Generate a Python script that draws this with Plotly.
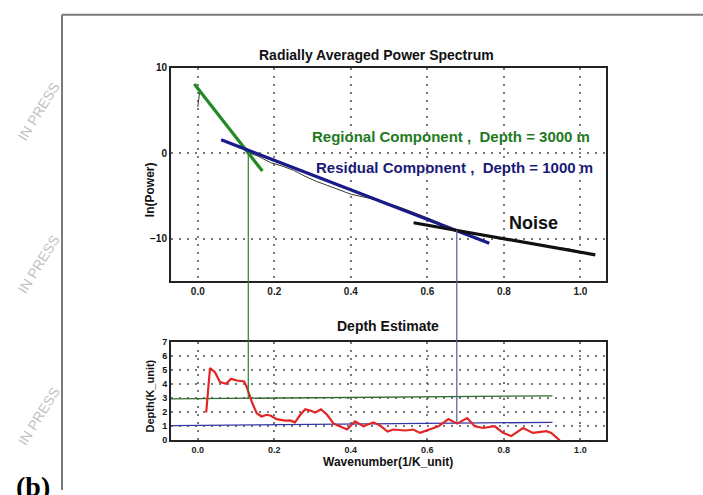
import plotly.graph_objects as go

# ---------------- data ----------------
# Radially averaged power spectrum (observed curve)
wavenumber = [0.0, 0.005, 0.02, 0.05, 0.08, 0.11, 0.135, 0.16, 0.19, 0.22, 0.25, 0.28,
              0.31, 0.34, 0.37, 0.40, 0.43, 0.46, 0.49, 0.52, 0.55, 0.58, 0.61, 0.64,
              0.67, 0.70, 0.73, 0.76, 0.79, 0.82, 0.85, 0.88, 0.91, 0.94, 0.97, 1.0]
ln_power = [5.4, 7.2, 6.4, 4.7, 3.0, 1.3, 0.0, -0.4, -1.1, -1.5, -2.0, -2.7,
            -3.3, -3.8, -4.3, -4.8, -5.1, -5.4, -5.8, -6.2, -6.7, -7.2, -7.75, -8.35,
            -8.95, -9.25, -9.45, -9.7, -9.9, -10.15, -10.4, -10.6, -10.85, -11.05, -11.2, -11.55]

# Fitted straight lines
regional_x = [-0.009, 0.169]
regional_y = [8.1, -2.1]
residual_x = [0.061, 0.762]
residual_y = [1.57, -10.55]
noise_x = [0.564, 1.039]
noise_y = [-8.15, -11.9]

# Depth estimate curve
depth_k = [0.022, 0.032, 0.045, 0.058, 0.074, 0.087, 0.102, 0.121, 0.128, 0.141, 0.154,
           0.167, 0.180, 0.191, 0.206, 0.228, 0.241, 0.254, 0.268, 0.281, 0.294, 0.307,
           0.322, 0.338, 0.355, 0.372, 0.390, 0.411, 0.433, 0.459, 0.477, 0.496, 0.511,
           0.542, 0.563, 0.581, 0.607, 0.629, 0.655, 0.678, 0.704, 0.724, 0.746, 0.776,
           0.798, 0.819, 0.850, 0.876, 0.911, 0.924, 0.946]
depth_est = [1.98, 5.15, 4.85, 4.15, 4.03, 4.38, 4.26, 4.19, 3.8, 2.75, 1.93,
             1.7, 1.82, 1.75, 1.51, 1.40, 1.42, 1.28, 1.82, 2.21, 2.12, 1.98,
             2.21, 1.82, 1.19, 1.0, 0.77, 1.35, 1.0, 1.28, 1.05, 0.62, 0.77,
             0.7, 0.77, 0.53, 0.81, 1.0, 1.51, 1.19, 1.58, 1.0, 0.88, 1.0,
             0.53, 0.3, 0.88, 0.53, 0.65, 0.53, 0.0]

# Depth reference lines (bottom panel)
regional_depth_x = [-0.07, 0.927]
regional_depth_y = [2.95, 3.17]
residual_depth_x = [-0.07, 0.927]
residual_depth_y = [1.05, 1.28]

# Break points (connector lines)
break_regional = dict(k=0.132, power=0.0, depth=2.96)
break_residual = dict(k=0.677, power=-9.0, depth=1.22)

x_ticks = [0.0, 0.2, 0.4, 0.6, 0.8, 1.0]
x_ticktext = ["0.0", "0.2", "0.4", "0.6", "0.8", "1.0"]
top_y_ticks = [-10, 0, 10]
bottom_y_ticks = [0, 1, 2, 3, 4, 5, 6, 7]

# ---------------- layout constants ----------------
W, H = 703, 495
XDOM = [171 / W, 606 / W]
TOP_DOM = [1 - 282 / H, 1 - 64 / H]
BOT_DOM = [1 - 444.3 / H, 1 - 344 / H]
XR = [-0.07, 1.067]
TOP_R = [-15, 10]
BOT_R = [0, 7]

FONT = "Arial, Liberation Sans, Helvetica, sans-serif"


def to_paper(v, rng, dom):
    return dom[0] + (v - rng[0]) / (rng[1] - rng[0]) * (dom[1] - dom[0])


fig = go.Figure()

# top panel traces
fig.add_trace(go.Scatter(x=wavenumber, y=ln_power, mode="lines",
                         line=dict(color="#3a3a30", width=1), xaxis="x", yaxis="y"))
fig.add_trace(go.Scatter(x=regional_x, y=regional_y, mode="lines",
                         line=dict(color="#238a23", width=3.2), xaxis="x", yaxis="y"))
fig.add_trace(go.Scatter(x=residual_x, y=residual_y, mode="lines",
                         line=dict(color="#1a1a88", width=3.2), xaxis="x", yaxis="y"))
fig.add_trace(go.Scatter(x=noise_x, y=noise_y, mode="lines",
                         line=dict(color="#111111", width=3.2), xaxis="x", yaxis="y"))

# bottom panel traces
fig.add_trace(go.Scatter(x=regional_depth_x, y=regional_depth_y, mode="lines",
                         line=dict(color="#2f6a2f", width=1.3), xaxis="x2", yaxis="y2"))
fig.add_trace(go.Scatter(x=residual_depth_x, y=residual_depth_y, mode="lines",
                         line=dict(color="#3636a8", width=1.3), xaxis="x2", yaxis="y2"))
fig.add_trace(go.Scatter(x=depth_k, y=depth_est, mode="lines",
                         line=dict(color="#e32525", width=2.2), xaxis="x2", yaxis="y2"))

shapes = []
# connector lines spanning both panels
for bp, col in [(break_regional, "#2f7a2f"), (break_residual, "#5a5aa0")]:
    shapes.append(dict(type="line", xref="x", yref="paper",
                       x0=bp["k"], x1=bp["k"],
                       y0=to_paper(bp["depth"], BOT_R, BOT_DOM),
                       y1=to_paper(bp["power"], TOP_R, TOP_DOM),
                       line=dict(color=col, width=1.2), layer="above"))
# outer frame of the figure panel
shapes.append(dict(type="line", xref="paper", yref="paper", x0=62 / W, x1=1.0,
                   y0=1 - 10 / H, y1=1 - 10 / H, line=dict(color="#7a7a7a", width=2)))
shapes.append(dict(type="line", xref="paper", yref="paper", x0=62 / W, x1=62 / W,
                   y0=0, y1=1 - 10 / H, line=dict(color="#7a7a7a", width=2)))

annotations = [
    dict(text="Radially Averaged Power Spectrum", xref="paper", yref="paper",
         x=377 / W, y=1 - 51 / H, showarrow=False, xanchor="center", yanchor="middle",
         font=dict(family=FONT, size=14, color="#111", weight="bold")),
    dict(text="Depth Estimate", xref="paper", yref="paper",
         x=388 / W, y=1 - 328 / H, showarrow=False, xanchor="center", yanchor="middle",
         font=dict(family=FONT, size=14, color="#111", weight="bold")),
    dict(text="Regional Component ,  Depth = 3000 m", xref="x", yref="y",
         x=0.662, y=1.9, showarrow=False, xanchor="center", yanchor="middle",
         font=dict(family=FONT, size=15, color="#1f7a1f", weight="bold")),
    dict(text="Residual Component ,  Depth = 1000 m", xref="x", yref="y",
         x=0.672, y=-1.68, showarrow=False, xanchor="center", yanchor="middle",
         font=dict(family=FONT, size=15, color="#1a1a78", weight="bold")),
    dict(text="Noise", xref="x", yref="y", x=0.878, y=-8.19, showarrow=False,
         xanchor="center", yanchor="middle",
         font=dict(family=FONT, size=18, color="#111", weight="bold")),
    dict(text="ln(Power)", xref="paper", yref="paper", x=150 / W, y=1 - 189 / H,
         textangle=-90, showarrow=False, xanchor="center", yanchor="middle",
         font=dict(family=FONT, size=12, color="#111", weight="bold")),
    dict(text="Depth(K_unit)", xref="paper", yref="paper", x=149.5 / W, y=1 - 399 / H,
         textangle=-90, showarrow=False, xanchor="center", yanchor="middle",
         font=dict(family=FONT, size=11, color="#111", weight="bold")),
    dict(text="Wavenumber(1/K_unit)", xref="paper", yref="paper", x=388 / W, y=1 - 466 / H,
         showarrow=False, xanchor="center", yanchor="middle",
         font=dict(family=FONT, size=12, color="#111", weight="bold")),
    dict(text="(b)", xref="paper", yref="paper", x=33 / W, y=1 - 474 / H,
         showarrow=False, xanchor="center", yanchor="top",
         font=dict(family="Liberation Serif, Times New Roman, serif", size=28,
                   color="#000", weight="bold")),
]
for yc in [109, 265, 420]:
    annotations.append(dict(text="IN PRESS", xref="paper", yref="paper",
                            x=38 / W, y=1 - yc / H, textangle=-58, showarrow=False,
                            xanchor="center", yanchor="middle",
                            font=dict(family=FONT, size=14, color="#c2c2c2")))

grid = dict(showgrid=True, gridcolor="#7a7a7a", gridwidth=1.6, griddash="2px,6px",
            showline=True, linecolor="#222", linewidth=2, mirror=True,
            ticks="", zeroline=False, fixedrange=True)

fig.update_layout(
    width=W, height=H, margin=dict(l=0, r=0, t=0, b=0),
    paper_bgcolor="white", plot_bgcolor="white", showlegend=False,
    xaxis=dict(domain=XDOM, range=XR, anchor="y", tickvals=x_ticks, ticktext=x_ticktext,
               tickfont=dict(family=FONT, size=10, color="#222", weight="bold"), **grid),
    yaxis=dict(domain=TOP_DOM, range=TOP_R, anchor="x", tickvals=top_y_ticks,
               tickfont=dict(family=FONT, size=10, color="#111", weight="bold"), **grid),
    xaxis2=dict(domain=XDOM, range=XR, anchor="y2", tickvals=x_ticks, ticktext=x_ticktext,
                tickfont=dict(family=FONT, size=9, color="#222", weight="bold"), **grid),
    yaxis2=dict(domain=BOT_DOM, range=BOT_R, anchor="x2", tickvals=bottom_y_ticks,
                tickfont=dict(family=FONT, size=9, color="#111", weight="bold"), **grid),
    shapes=shapes, annotations=annotations,
)

fig.write_html("out.html")
